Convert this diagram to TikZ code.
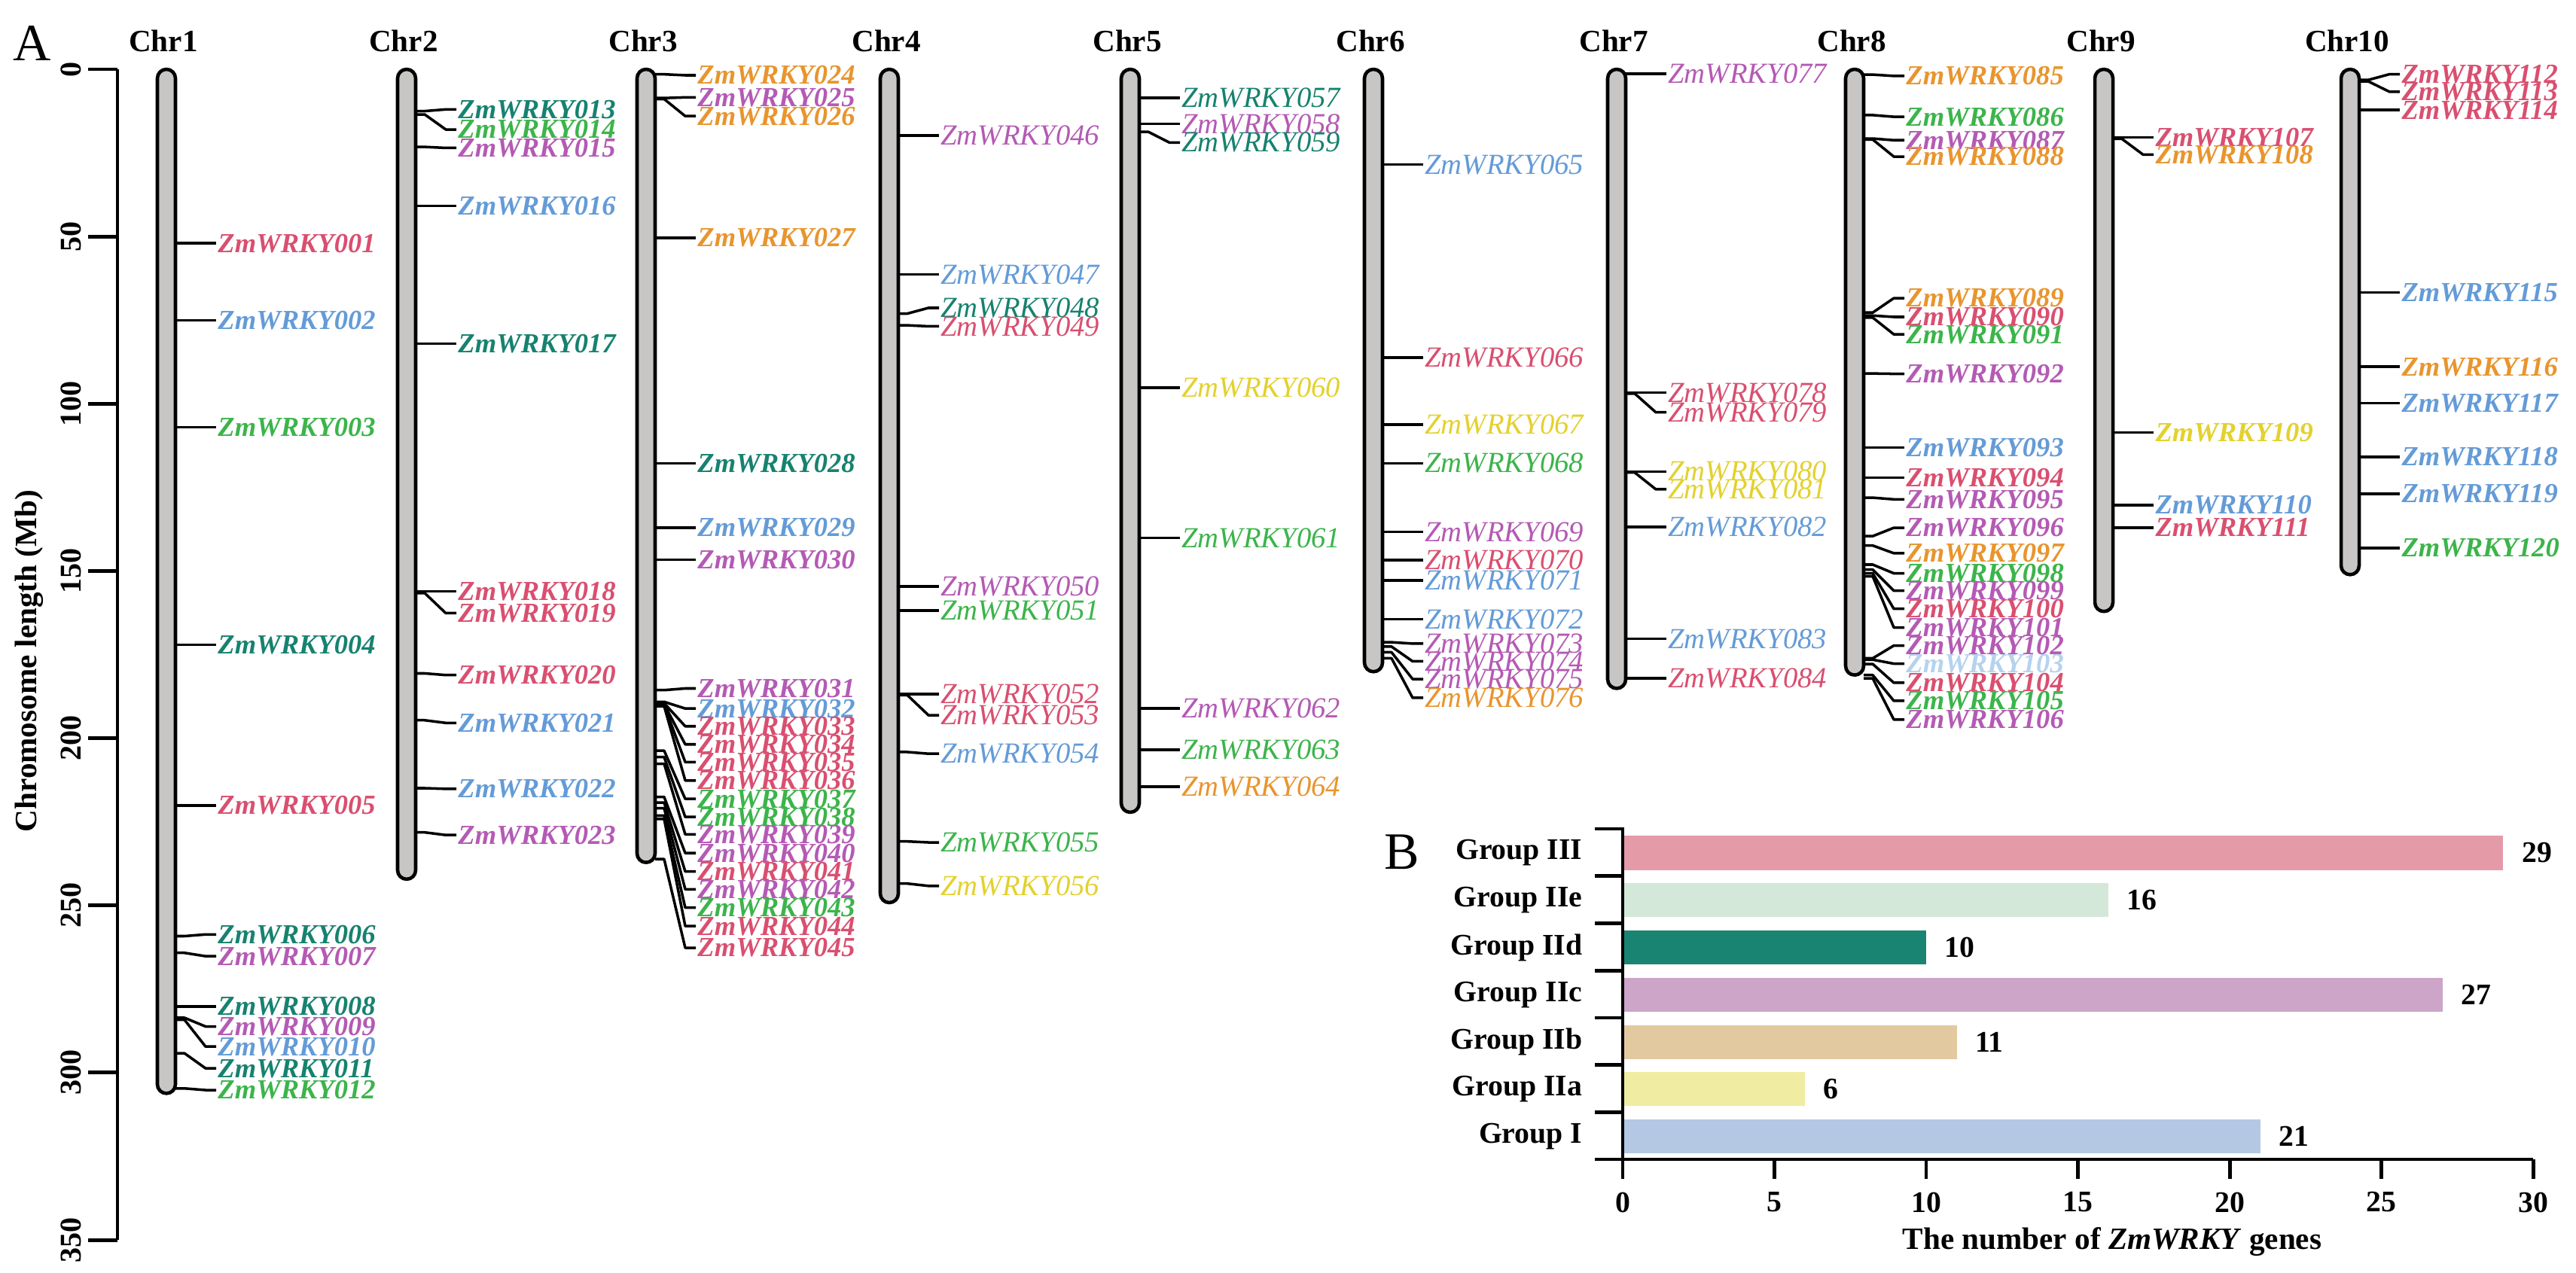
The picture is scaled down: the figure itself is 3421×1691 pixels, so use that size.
\documentclass[tikz,border=0pt]{standalone}
\usepackage{fontspec}
\setmainfont{Liberation Serif}
\usetikzlibrary{calc,positioning}

\definecolor{grpI}{RGB}{100,155,215}
\definecolor{paleI}{RGB}{181,211,238}
\definecolor{grpIIa}{RGB}{227,209,46}
\definecolor{grpIIb}{RGB}{232,149,46}
\definecolor{grpIIc}{RGB}{180,90,180}
\definecolor{grpIId}{RGB}{22,130,111}
\definecolor{grpIIe}{RGB}{60,180,75}
\definecolor{grpIII}{RGB}{217,79,112}
\definecolor{chrgray}{RGB}{200,198,196}
\definecolor{barI}{RGB}{180,200,228}
\definecolor{barIIa}{RGB}{240,237,162}
\definecolor{barIIb}{RGB}{227,201,160}
\definecolor{barIIc}{RGB}{205,165,201}
\definecolor{barIId}{RGB}{26,132,114}
\definecolor{barIIe}{RGB}{211,232,217}
\definecolor{barIII}{RGB}{229,154,168}

\tikzset{
  chrbar/.style={draw=black, line width=1.3pt, fill=chrgray, rounded corners=0.12cm},
  chrname/.style={inner sep=0pt, font=\bfseries\fontsize{11.7}{12}\selectfont},
  genebf/.style={anchor=west, inner xsep=0.5pt, inner ysep=0pt,
    font=\bfseries\itshape\fontsize{10.4}{11}\selectfont},
  geneit/.style={anchor=west, inner xsep=0.5pt, inner ysep=0pt,
    font=\itshape\fontsize{11}{12}\selectfont},
  link/.style={line width=1pt, line join=round},
  axisline/.style={line width=1.4pt},
  ticklab/.style={inner sep=0pt, font=\bfseries\fontsize{11.4}{12}\selectfont},
  barlab/.style={inner sep=0pt, font=\bfseries\fontsize{11.3}{12}\selectfont},
  barbox/.style={draw=none, minimum height=0.45cm, inner sep=0pt, outer sep=0pt},
  panel/.style={inner sep=0pt, font=\fontsize{19.8}{20}\selectfont}
}

% #1 number, #2 centre x (px), #3 length (Mb), #4 genes Mb/label Mb/id/colour, #5 label style
\newcommand{\chromosome}[5]{%
  \begin{scope}[shift={(#2,92)}, y=-0.04443cm]
    \draw[chrbar] (-12,0) rectangle (12,#3);
    \node[chrname] (c#1) at (-4,-8.5) {Chr#1};
    \foreach \g/\l/\n/\col in {#4} {
      \coordinate (b\n) at (12,\g);
      \node[#5, text=\col] (g\n) at (66,\l) {ZmWRKY\n};
      \draw[link] (b\n) -- ++(12,0) -- ($(g\n.west)+(-14,0)$) -- (g\n.west);
    }
  \end{scope}}

\begin{document}
\begin{tikzpicture}[x=0.01cm, y=-0.01cm]
  \useasboundingbox (0,0) rectangle (3421,1691);

  % panel A
  \node[panel] (pA) at (43,58) {A};
  \draw[axisline] (156,92) -- (156,1647);
  \foreach \m in {0,50,...,350} {
    \draw[axisline] (117,{92+\m*4.443}) -- (156,{92+\m*4.443});
    \node[ticklab, rotate=90] (yt\m) at (94,{92+\m*4.443}) {\m};
  }
  \node[ticklab, rotate=90, font=\bfseries\fontsize{11.7}{12}\selectfont] (ytitle) at (39,878)
    {Chromosome length (Mb)};

  \chromosome{1}{221}{306}{52/52/001/grpIII, 75/75/002/grpI, 107/107/003/grpIIe,
    172/172/004/grpIId, 220/220/005/grpIII, 259/258.5/006/grpIId, 264/265/007/grpIIc,
    280/280/008/grpIId, 283.4/286/009/grpIIc, 284/292/010/grpI, 294/298.5/011/grpIId,
    304.5/305/012/grpIIe}{genebf}
  \chromosome{2}{540}{242}{12.5/12/013/grpIId, 13.5/18/014/grpIIe, 23.2/23.5/015/grpIIc,
    40.8/40.8/016/grpI, 82/82/017/grpIId, 156/156/018/grpIII, 156.5/162.5/019/grpIII,
    180.5/181/020/grpIII, 194.5/195.3/021/grpI, 214.8/215/022/grpI,
    228/228.8/023/grpIIc}{genebf}
  \chromosome{3}{858}{237}{1.5/1.8/024/grpIIb, 8.6/8.4/025/grpIIc, 8.9/14/026/grpIIb,
    50.4/50.4/027/grpIIb, 117.8/117.8/028/grpIId, 137/137/029/grpI, 146.5/146.5/030/grpIIc,
    185.5/185/031/grpIIc, 189/191/032/grpI, 189.4/196.3/033/grpIII, 189.7/201.7/034/grpIII,
    190/207/035/grpIII, 190.3/212.5/036/grpIII, 203.6/218/037/grpIIe, 205.5/223.4/038/grpIIe,
    207.5/228.6/039/grpIIc, 217.4/234.2/040/grpIIc, 219.1/239.7/041/grpIII,
    220.8/245/042/grpIIc, 223/250.5/043/grpIIe, 224/256/044/grpIII,
    236/262.5/045/grpIII}{genebf}
  \chromosome{4}{1181}{249}{19.8/19.8/046/grpIIc, 61.3/61.3/047/grpI, 73/71.3/048/grpIId,
    76.5/76.8/049/grpIII, 154.5/154.5/050/grpIIc, 161.7/161.7/051/grpIIe,
    186.7/186.7/052/grpIII, 187/193/053/grpIII, 204/204.5/054/grpI, 230.7/231/055/grpIIe,
    243.3/244/056/grpIIa}{geneit}
  \chromosome{5}{1501}{222}{8.6/8.6/057/grpIId, 16.3/16.3/058/grpIIc, 18.7/21.9/059/grpIId,
    95.1/95.1/060/grpIIa, 140/140/061/grpIIe, 191/191/062/grpIIc, 203.3/203.3/063/grpIIe,
    214.3/214.3/064/grpIIb}{geneit}
  \chromosome{6}{1824}{180}{28.5/28.5/065/grpI, 86.2/86.2/066/grpIII, 106.2/106.2/067/grpIIa,
    117.7/117.7/068/grpIIe, 138.2/138.2/069/grpIIc, 146.7/146.7/070/grpIII,
    152.7/152.7/071/grpI, 164.3/164.3/072/grpI, 171.2/171.6/073/grpIIc,
    172.5/176.9/074/grpIIc, 174.2/182.2/075/grpIIc, 176/187.8/076/grpIIb}{geneit}
  \chromosome{7}{2147}{185}{1.4/1.4/077/grpIIc, 96.6/96.6/078/grpIII, 96.9/102.5/079/grpIII,
    120.2/120.2/080/grpIIa, 120.5/125.5/081/grpIIa, 136.7/136.7/082/grpI,
    170.2/170.2/083/grpI, 182/182/084/grpIII}{geneit}
  \chromosome{8}{2463}{181}{1.6/2/085/grpIIb, 13.7/14.2/086/grpIIe, 20.7/21.2/087/grpIIc,
    21/26.1/088/grpIIb, 72.7/68.4/089/grpIIb, 73.6/74/090/grpIII, 74.2/79.2/091/grpIIe,
    90.9/91/092/grpIIc, 113/113/093/grpI, 122/122/094/grpIII, 128/128.5/095/grpIIc,
    139.5/137/096/grpIIc, 142.3/144.6/097/grpIIb, 148/150.6/098/grpIIe,
    149.5/155.8/099/grpIIc, 150.6/161.2/100/grpIII, 151.5/166.8/101/grpIIc,
    176/172.2/102/grpIIc, 176.4/177.6/103/paleI, 177.7/183.3/104/grpIII,
    181/188.7/105/grpIIe, 182/194.3/106/grpIIc}{genebf}
  \chromosome{9}{2794}{162}{20.4/20.4/107/grpIII, 20.8/25.5/108/grpIIb,
    108.5/108.5/109/grpIIa, 130.2/130.2/110/grpI, 137/137/111/grpIII}{genebf}
  \chromosome{10}{3121}{151}{3.2/1.5/112/grpIII, 3.6/6.7/113/grpIII, 12.2/12.2/114/grpIII,
    66.7/66.7/115/grpI, 88.9/88.9/116/grpIIb, 99.7/99.7/117/grpI, 115.8/115.8/118/grpI,
    126.8/126.8/119/grpI, 143/143/120/grpIIe}{genebf}

  % panel B
  \node[panel] (pB) at (1862,1132) {B};
  \foreach \v/\lab/\col [count=\k from 0] in {29/III/barIII, 16/IIe/barIIe, 10/IId/barIId,
      27/IIc/barIIc, 11/IIb/barIIb, 6/IIa/barIIa, 21/I/barI} {
    \pgfmathsetmacro\w{\v*0.403}
    \node[barbox, fill=\col, minimum width=\w cm, anchor=west] (bar\k) at (2155,{1133+\k*62.75}) {};
    \node[barlab, right=0.24cm of bar\k] (val\k) {\v};
    \node[barlab, anchor=east] (grp\k) at (2102,{1133+\k*62.75}) {Group \lab};
    \draw[axisline] (2118,{1101+\k*62.75}) -- (2155,{1101+\k*62.75});
  }
  \draw[axisline] (2155,1099) -- (2155,1540);
  \draw[axisline] (2118,1540) -- (3364,1540);
  \foreach \t in {0,5,...,30} {
    \draw[axisline] ({2155+\t*40.3},1540) -- ({2155+\t*40.3},1566);
    \node[barlab] (xt\t) at ({2155+\t*40.3},1597) {\t};
  }
  \node[barlab, font=\bfseries\fontsize{11.7}{12}\selectfont] (xtitle) at (2805,1650)
    {The number of \textit{ZmWRKY} genes};
\end{tikzpicture}
\end{document}
